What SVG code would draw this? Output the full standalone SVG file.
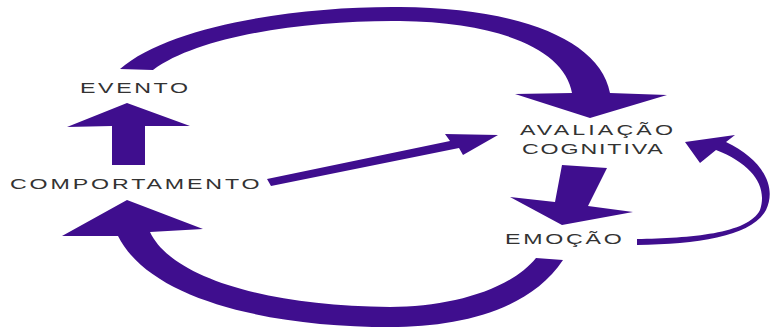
<svg xmlns="http://www.w3.org/2000/svg" width="774" height="329" viewBox="0 0 774 329">
<style>
.arr{fill:#3f0e8e;stroke:none}
.lbl{font-family:"Liberation Sans","DejaVu Sans",Arial,sans-serif;font-size:14.5px;fill:#333333}
</style>
<rect width="774" height="329" fill="#ffffff"/>
<g id="connectors">
<path id="c-evento-avaliacao" class="arr" d="M120,69 C170,25 300,6 400,7 C520,8 600,40 610,93 L667,95 L590,118 L515,94 L572,93 C565,50 500,22 400,21 C310,20 200,35 153,70 Z"/>
<polygon id="c-comportamento-evento" class="arr" points="112,165 112,126 67,127 127,103 190,126 145,126 145,165"/>
<polygon id="c-comportamento-avaliacao" class="arr" points="267,179 450,141 445,134 498,135 463,155 459,148 271,186"/>
<polygon id="c-avaliacao-emocao" class="arr" points="562,165 607,168 588,206 633,212 562,225 510,197 555,202"/>
<path id="c-emocao-comportamento" class="arr" d="M563,260 C530,310 460,327 390,327 C270,327 150,300 118,236 L62,236 L127,200 L203,229 L150,232 C170,275 260,306 390,307 C450,307 510,290 536,258 Z"/>
<path id="c-emocao-avaliacao" class="arr" d="M637,245 C700,244 752,236 766,210 C778,185 760,158 726,142 L735,135 L685,142 L700,163 L716,150 C752,164 768,186 760,210 C748,234 690,238 637,239 Z"/>
</g>
<g id="evento"><text class="lbl" transform="translate(80,92.5) scale(1.6,1)" textLength="67.5" lengthAdjust="spacing">EVENTO</text></g>
<g id="comportamento"><text class="lbl" transform="translate(10,189) scale(1.6,1)" textLength="156" lengthAdjust="spacing">COMPORTAMENTO</text></g>
<g id="avaliacao">
<text class="lbl" transform="translate(520,134.5) scale(1.6,1)" textLength="95.6" lengthAdjust="spacing">AVALIAÇÃO</text>
<text class="lbl" transform="translate(522,153.5) scale(1.6,1)" textLength="88" lengthAdjust="spacing">COGNITIVA</text>
</g>
<g id="emocao"><text class="lbl" transform="translate(505,244) scale(1.6,1)" textLength="73" lengthAdjust="spacing">EMOÇÃO</text></g>
</svg>
